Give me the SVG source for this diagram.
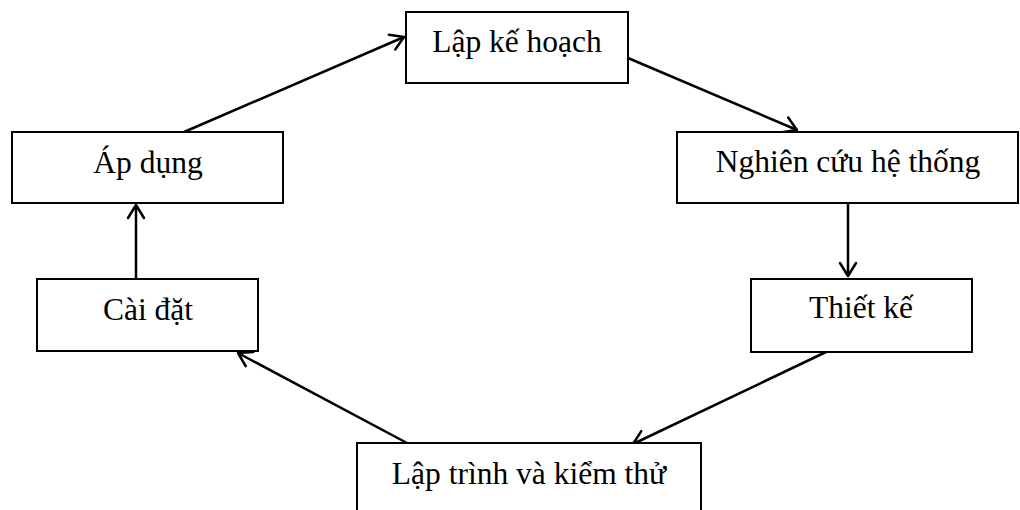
<svg xmlns="http://www.w3.org/2000/svg" width="1020" height="510" viewBox="0 0 1020 510">
  <style>
    .box { fill: #ffffff; stroke: #000000; stroke-width: 2; }
    .label { font-family: "Liberation Serif", "Times New Roman", serif; font-size: 31.5px; fill: #000000; text-anchor: middle; }
    .link { fill: none; stroke: #000000; stroke-width: 2.5; marker-end: url(#arrow); }
  </style>
  <defs>
    <marker id="arrow" viewBox="0 0 20 20" refX="17" refY="10" markerWidth="20" markerHeight="20" markerUnits="userSpaceOnUse" orient="auto">
      <path d="M4 2 L17 10 L4 18" fill="none" stroke="#000000" stroke-width="2.5" stroke-linecap="round" stroke-linejoin="round"/>
    </marker>
  </defs>
  <rect width="1020" height="510" fill="#ffffff"/>

  <g id="connectors">
    <line class="link" x1="628" y1="58" x2="797" y2="130"/>
    <line class="link" x1="848" y1="203" x2="848" y2="276"/>
    <line class="link" x1="826" y1="352" x2="633" y2="444"/>
    <line class="link" x1="407" y1="443" x2="238" y2="353"/>
    <line class="link" x1="136" y1="279" x2="136" y2="205"/>
    <line class="link" x1="184" y1="132" x2="404" y2="37"/>
  </g>

  <g id="lap-ke-hoach">
    <rect class="box" x="406" y="12" width="222" height="71"/>
    <text class="label" x="517" y="52">Lập kế hoạch</text>
  </g>
  <g id="nghien-cuu">
    <rect class="box" x="677" y="132" width="341" height="71"/>
    <text class="label" x="848" y="172">Nghiên cứu hệ thống</text>
  </g>
  <g id="thiet-ke">
    <rect class="box" x="751" y="279" width="221" height="73"/>
    <text class="label" x="861" y="318">Thiết kế</text>
  </g>
  <g id="lap-trinh">
    <rect class="box" x="357" y="443" width="344" height="80"/>
    <text class="label" x="529" y="484">Lập trình và kiểm thử</text>
  </g>
  <g id="cai-dat">
    <rect class="box" x="37" y="279" width="221" height="72"/>
    <text class="label" x="148" y="320">Cài đặt</text>
  </g>
  <g id="ap-dung">
    <rect class="box" x="12" y="132" width="271" height="71"/>
    <text class="label" x="148" y="173">Áp dụng</text>
  </g>
</svg>
